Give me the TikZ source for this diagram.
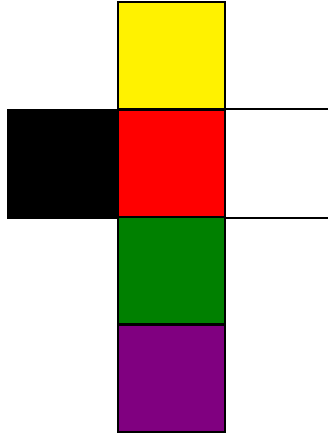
\documentclass[tikz,border=0pt]{standalone}
\begin{document}
\begin{tikzpicture}[x=1pt,y=-1pt,
  face/.style={draw=black,line width=1.8pt,rectangle,inner sep=0pt,minimum width=107pt,minimum height=107pt,anchor=north west},
  edge/.style={draw=black,line width=1.8pt}]
\useasboundingbox (0,0) rectangle (328,434);
\node[face,fill=black,minimum width=110pt,minimum height=108pt] (k) at (7,109) {};
\node[face,fill=yellow] (y) at (117,1) {};
\node[face,fill=red] (r) at (117,109) {};
\node[face,fill={rgb,255:red,0;green,128;blue,0}] (g) at (117,216) {};
\node[face,fill={rgb,255:red,128;green,0;blue,128}] (p) at (117,324) {};
\coordinate (rt) at (328,0);
\draw[edge] (r.north east) -- (r.north east -| rt);
\draw[edge] (r.south east) -- (r.south east -| rt);
\end{tikzpicture}
\end{document}
